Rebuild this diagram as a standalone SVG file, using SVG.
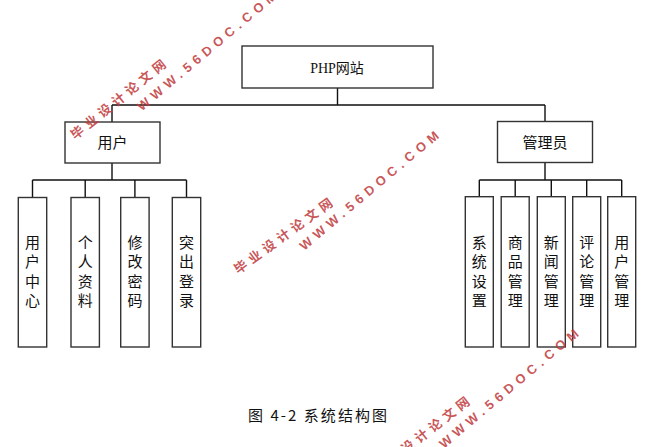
<svg xmlns="http://www.w3.org/2000/svg" width="647" height="447" viewBox="0 0 647 447">
<style>
.box{fill:#fff;stroke:#333;stroke-width:1.4}
.lbl{font-family:"Noto Sans CJK SC","Liberation Sans",sans-serif;font-size:15px;fill:#111;text-anchor:middle}
.ttl{font-family:"Liberation Serif","Noto Sans CJK SC",serif;font-size:14px;fill:#111;text-anchor:middle}
.con{fill:none;stroke:#111;stroke-width:1.4}
.wmc{font-family:"Noto Sans CJK SC",sans-serif;font-weight:bold;font-size:13px;fill:#c0393b;fill-opacity:0.85;text-anchor:middle;dominant-baseline:central;letter-spacing:4.5px}
.wme{font-family:"Liberation Sans",sans-serif;font-weight:bold;font-size:13px;fill:#c0393b;fill-opacity:0.85;text-anchor:middle;dominant-baseline:central;letter-spacing:5px}
.cap{font-family:"Noto Sans CJK SC","Liberation Mono",sans-serif;font-size:15px;fill:#111;text-anchor:middle}
</style>
<rect width="647" height="447" fill="#fff"/>
<g id="connectors">
<path class="con" d="M337.5 88V105M112 105H545M112 105V122M112 163V180M32.5 180H186.5M32.5 180V197.5M85.2 180V197.5M134.9 180V197.5M186.5 180V197.5M545 105V121.5M545 162.5V180M479.3 180H621.7M479.3 180V196.7M515.2 180V196.7M551.3 180V196.7M586.7 180V196.7M621.7 180V196.7"/>
</g>
<g id="root"><rect class="box" x="242" y="46" width="191" height="42"/><text class="ttl" x="337" y="73">PHP网站</text></g>
<g id="user"><rect class="box" x="65" y="122" width="95" height="41"/><text class="lbl" x="112.5" y="147.5">用户</text></g>
<g id="admin"><rect class="box" x="497.5" y="121.5" width="95" height="41"/><text class="lbl" x="545" y="147.5">管理员</text></g>
<g id="u1"><rect class="box" x="18.3" y="197.5" width="28.4" height="149.5"/><text class="lbl"><tspan x="32.5" y="247.5">用</tspan><tspan x="32.5" y="267">户</tspan><tspan x="32.5" y="286.5">中</tspan><tspan x="32.5" y="306">心</tspan></text></g>
<g id="u2"><rect class="box" x="71" y="197.5" width="28.4" height="149.5"/><text class="lbl"><tspan x="85.2" y="247.5">个</tspan><tspan x="85.2" y="267">人</tspan><tspan x="85.2" y="286.5">资</tspan><tspan x="85.2" y="306">料</tspan></text></g>
<g id="u3"><rect class="box" x="120.7" y="197.5" width="28.4" height="149.5"/><text class="lbl"><tspan x="134.9" y="247.5">修</tspan><tspan x="134.9" y="267">改</tspan><tspan x="134.9" y="286.5">密</tspan><tspan x="134.9" y="306">码</tspan></text></g>
<g id="u4"><rect class="box" x="172.3" y="197.5" width="28.4" height="149.5"/><text class="lbl"><tspan x="186.5" y="247.5">突</tspan><tspan x="186.5" y="267">出</tspan><tspan x="186.5" y="286.5">登</tspan><tspan x="186.5" y="306">录</tspan></text></g>
<g id="a1"><rect class="box" x="465.3" y="196.7" width="28" height="150.3"/><text class="lbl"><tspan x="479.3" y="247.5">系</tspan><tspan x="479.3" y="267">统</tspan><tspan x="479.3" y="286.5">设</tspan><tspan x="479.3" y="306">置</tspan></text></g>
<g id="a2"><rect class="box" x="501.2" y="196.7" width="28" height="150.3"/><text class="lbl"><tspan x="515.2" y="247.5">商</tspan><tspan x="515.2" y="267">品</tspan><tspan x="515.2" y="286.5">管</tspan><tspan x="515.2" y="306">理</tspan></text></g>
<g id="a3"><rect class="box" x="537.3" y="196.7" width="28" height="150.3"/><text class="lbl"><tspan x="551.3" y="247.5">新</tspan><tspan x="551.3" y="267">闻</tspan><tspan x="551.3" y="286.5">管</tspan><tspan x="551.3" y="306">理</tspan></text></g>
<g id="a4"><rect class="box" x="572.7" y="196.7" width="28" height="150.3"/><text class="lbl"><tspan x="586.7" y="247.5">评</tspan><tspan x="586.7" y="267">论</tspan><tspan x="586.7" y="286.5">管</tspan><tspan x="586.7" y="306">理</tspan></text></g>
<g id="a5"><rect class="box" x="607.7" y="196.7" width="28" height="150.3"/><text class="lbl"><tspan x="621.7" y="247.5">用</tspan><tspan x="621.7" y="267">户</tspan><tspan x="621.7" y="286.5">管</tspan><tspan x="621.7" y="306">理</tspan></text></g>
<g id="caption"><text class="cap" x="317.5" y="420.5" textLength="139" lengthAdjust="spacing">图 4-2 系统结构图</text></g>
<g id="watermarks">
<text class="wmc" transform="translate(119.5 97.5) rotate(-39)">毕业设计论文网</text>
<text class="wme" transform="translate(208.5 49.6) rotate(-40)">WWW.56DOC.COM</text>
<text class="wmc" transform="translate(284.5 234) rotate(-36)">毕业设计论文网</text>
<text class="wme" transform="translate(371 189) rotate(-40)">WWW.56DOC.COM</text>
<text class="wmc" transform="translate(422.7 434) rotate(-38)">毕业设计论文网</text>
<text class="wme" transform="translate(510.7 387) rotate(-40)">WWW.56DOC.COM</text>
</g>
</svg>
